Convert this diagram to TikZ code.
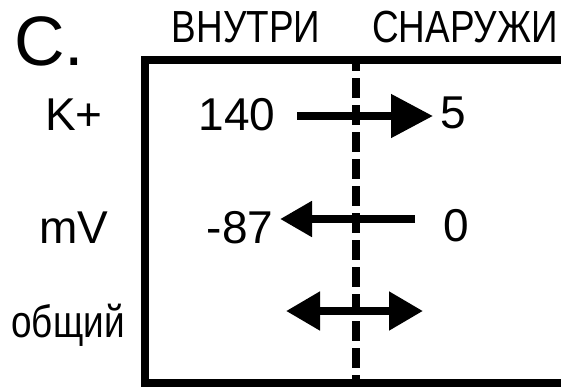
\documentclass[tikz,border=0pt]{standalone}
\usepackage{fontspec}
\setmainfont{Liberation Sans}
\newfontfamily\narrowfont[FakeStretch=0.82]{Liberation Sans}
\usetikzlibrary{arrows.meta}
\begin{document}
\begin{tikzpicture}[x=1pt,y=-1pt,
  lbl/.style={inner sep=0pt,anchor=base,font=\fontsize{46}{50}\selectfont},
  cyr/.style={inner sep=0pt,anchor=base,font=\narrowfont\fontsize{45}{50}\selectfont},
  wall/.style={line width=7.5pt,line join=miter},
  memb/.style={line width=7.5pt,dash pattern=on 20pt off 7pt,dash phase=9pt},
  flow/.style={line width=8pt}
]
\useasboundingbox (0,0) rectangle (561,388);
\begin{scope}
\clip (0,0) rectangle (561,388);
% box
\coordinate (tr) at (570,60);
\coordinate (tl) at (145,60);
\coordinate (bl) at (145,383);
\coordinate (br) at (570,383);
\draw[wall] (tr) -- (tl) -- (bl) -- (br);
% membrane
\coordinate (mt) at (356,60);
\coordinate (mb) at (356,383);
\draw[memb] (mt) -- (mb);
\end{scope}
% labels
\node[inner sep=0pt,anchor=base,font=\fontsize{70}{74}\selectfont] (C) at (49,65) {C.};
\node[cyr] (in) at (246,42) {ВНУТРИ};
\node[cyr] (out) at (465,42) {СНАРУЖИ};
\node[lbl] (K) at (74,130) {K+};
\node[lbl] (k140) at (237,130) {140};
\node[lbl] (k5) at (453,128) {5};
\node[lbl] (mV) at (74,243) {mV};
\node[lbl] (m87) at (240,243) {-87};
\node[lbl] (m0) at (456,241) {0};
\node[cyr] (tot) at (68,337) {общий};
% arrows
\coordinate (a1s) at (297,116);
\coordinate (a1e) at (433,116);
\draw[flow,-{Triangle[length=42pt,width=42pt]}] (a1s) -- (a1e);
\coordinate (a2s) at (415,219);
\coordinate (a2e) at (280,219);
\draw[flow,-{Triangle[length=32pt,width=34pt]}] (a2s) -- (a2e);
\coordinate (a3s) at (286,311);
\coordinate (a3e) at (423,311);
\draw[flow,{Triangle[length=34pt,width=37pt]}-{Triangle[length=34pt,width=37pt]}] (a3s) -- (a3e);
\end{tikzpicture}
\end{document}
